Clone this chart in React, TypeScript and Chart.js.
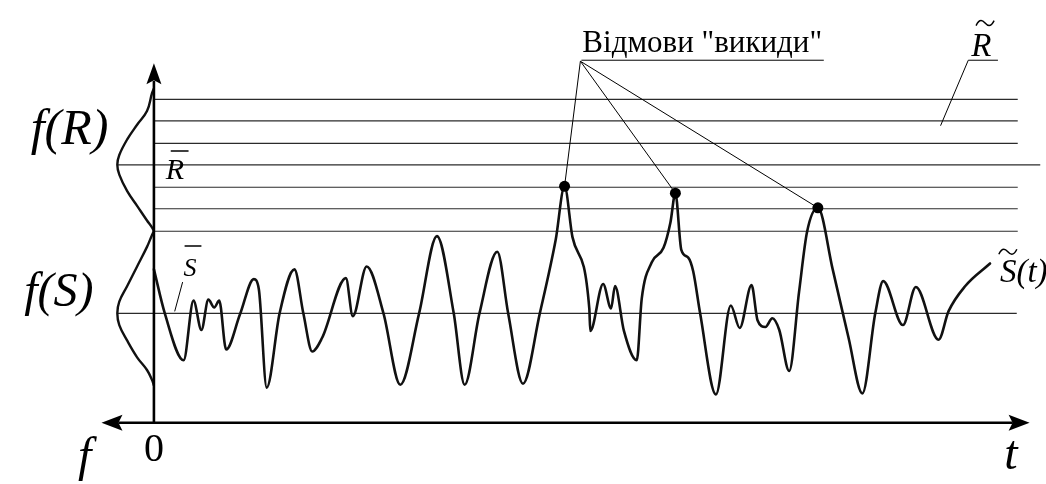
import React, { useEffect, useRef } from "react";
import { Chart, registerables } from "chart.js";

Chart.register(...registerables);

const W = 1046;
const H = 484;

// Time axis t (0 at the vertical axis) and level axis v (loads S and strengths R share it)
const tMin = -15;
const tMax = 89.6;
const vMin = -5.7;
const vMax = 42.7;

// Load process S~(t)
const signalT = [
  0, 1.1, 3.0, 4.0, 4.8, 5.5, 6.1, 6.6, 7.3, 8.7, 10.1, 10.6, 11.4, 12.7, 14.2, 15.1, 16.0, 17.0,
  19.4, 20.1, 21.5, 23.2, 24.9, 26.8, 28.6, 30.3, 31.4, 32.9, 34.7, 35.8, 37.3, 39.0, 40.6, 41.5,
  42.3, 44.0, 44.1, 45.4, 46.2, 46.6, 47.5, 48.8, 49.3, 50.3, 51.5, 52.2, 52.7, 53.3, 54.0, 54.5,
  55.2, 56.8, 58.3, 59.2, 60.4, 61.0, 61.8, 62.5, 63.2, 64.2, 65.2, 66.0, 67.1, 68.6, 70.2, 71.6,
  72.9, 73.7, 75.7, 77.0, 79.3, 80.3, 82.0, 84.5,
];
const signalV = [
  15.7, 11.2, 6.4, 12.5, 9.5, 12.6, 11.8, 12.5, 7.5, 11.1, 14.7, 13.7, 3.6, 11.2, 15.7, 11.2, 7.3, 8.7,
  14.8, 10.9, 16.0, 11.2, 3.9, 11.2, 19.1, 11.2, 3.9, 11.2, 17.5, 11.2, 4.0, 11.2, 18.7, 24.2,
  19.0, 11.7, 9.4, 14.2, 11.7, 14.0, 9.4, 6.4, 12.7, 16.4, 17.9, 20.5, 23.5, 17.7, 16.9, 15.5,
  11.2, 2.9, 12.0, 9.7, 14.1, 10.5, 9.8, 10.7, 9.5, 5.3, 13.4, 19.5, 22.0, 15.7, 8.7, 3.0,
  11.2, 14.5, 10.0, 13.9, 8.5, 11.4, 14.0, 16.3,
];

// Failures: load peaks that reach the strength band
const failureT = [41.5, 52.7, 67.1];
const failureV = [24.2, 23.5, 22.0];

// Strength realisations R~ and the means
const strengthLevels = [33.1, 30.9, 28.6, 24.1, 21.9, 19.6];
const rMean = 26.4;
const sMean = 11.2;
const levelsEnd = 87.3;
const sMeanEnd = 87.2;

// Density f(R), drawn leftwards from the vertical axis
const fROffset = [0, -0.2, -0.7, -1.7, -2.7, -3.5, -3.7, -3.5, -2.7, -1.7, -0.7, -0.2, 0];
const fRLevel = [34.2, 33.7, 31.9, 30.5, 29.0, 27.4, 26.4, 25.4, 23.7, 22.2, 20.7, 20.0, 19.6];

// Density f(S)
const fSOffset = [0, -0.2, -0.7, -1.7, -2.7, -3.5, -3.7, -3.5, -2.7, -1.7, -0.7, -0.2, 0];
const fSLevel = [19.6, 19.2, 18.0, 16.0, 14.0, 12.4, 11.2, 10.0, 8.4, 6.7, 5.4, 4.4, 3.8];

const fPeak = -3.7;

const SERIF = '"Liberation Serif", "Times New Roman", serif';

const xy = (ts: number[], vs: number[]) => ts.map((t, i) => ({ x: t, y: vs[i] }));

const level = (v: number, from: number, to: number) => ({
  data: [
    { x: from, y: v },
    { x: to, y: v },
  ],
  borderColor: "#2b2b2b",
  borderWidth: 1.2,
  pointRadius: 0,
  tension: 0,
  fill: false,
});

const decorations = {
  id: "decorations",
  afterDatasetsDraw(chart: any) {
    const { ctx } = chart;
    const xs = chart.scales.x;
    const ys = chart.scales.y;
    const X = (t: number) => xs.getPixelForValue(t);
    const Y = (v: number) => ys.getPixelForValue(v);

    ctx.save();
    ctx.strokeStyle = "#000";
    ctx.fillStyle = "#000";
    ctx.lineCap = "butt";

    // axes
    const ox = X(0);
    const oy = Y(0);
    ctx.lineWidth = 2.6;
    ctx.beginPath();
    ctx.moveTo(ox, oy);
    ctx.lineTo(ox, Y(35.0));
    ctx.moveTo(X(-3.6), oy);
    ctx.lineTo(X(86.8), oy);
    ctx.stroke();

    // arrow heads
    const up = Y(36.8);
    ctx.beginPath();
    ctx.moveTo(ox, up);
    ctx.lineTo(ox + 7.5, up + 21);
    ctx.lineTo(ox, up + 17);
    ctx.lineTo(ox - 7.5, up + 21);
    ctx.closePath();
    ctx.fill();

    const lx = X(-5.3);
    ctx.beginPath();
    ctx.moveTo(lx, oy);
    ctx.lineTo(lx + 21, oy - 8);
    ctx.lineTo(lx + 17, oy);
    ctx.lineTo(lx + 21, oy + 8);
    ctx.closePath();
    ctx.fill();

    const rx = X(88.5);
    ctx.beginPath();
    ctx.moveTo(rx, oy);
    ctx.lineTo(rx - 21, oy - 8);
    ctx.lineTo(rx - 17, oy);
    ctx.lineTo(rx - 21, oy + 8);
    ctx.closePath();
    ctx.fill();

    // leader lines
    ctx.lineWidth = 1;
    ctx.beginPath();
    // failures label
    ctx.moveTo(X(43.2), Y(37.1));
    ctx.lineTo(X(67.7), Y(37.1));
    failureT.forEach((t, i) => {
      ctx.moveTo(X(43.1), Y(37.0));
      ctx.lineTo(X(t), Y(failureV[i]));
    });
    // R~ label
    ctx.moveTo(X(82.3), Y(37.1));
    ctx.lineTo(X(85.3), Y(37.1));
    ctx.moveTo(X(82.3), Y(37.1));
    ctx.lineTo(X(79.5), Y(30.4));
    // S mean label
    ctx.moveTo(X(2.9), Y(14.4));
    ctx.lineTo(X(2.1), Y(11.4));
    ctx.stroke();

    // bars and tildes
    ctx.lineWidth = 1.5;
    ctx.beginPath();
    ctx.moveTo(X(1.7), Y(27.8));
    ctx.lineTo(X(3.5), Y(27.8));
    ctx.moveTo(X(3.1), Y(18.1));
    ctx.lineTo(X(4.8), Y(18.1));
    ctx.stroke();

    const tilde = (cx: number, cy: number, w: number) => {
      ctx.beginPath();
      ctx.moveTo(cx - w, cy + 2.5);
      ctx.bezierCurveTo(cx - w * 0.6, cy - 5, cx - w * 0.25, cy - 2.5, cx, cy);
      ctx.bezierCurveTo(cx + w * 0.25, cy + 2.5, cx + w * 0.6, cy + 5, cx + w, cy - 2.5);
      ctx.stroke();
    };
    tilde(X(84.0), Y(40.9), 9);
    tilde(X(86.3), Y(17.5), 9);

    // text
    ctx.textBaseline = "alphabetic";
    ctx.textAlign = "right";
    ctx.font = `italic 50px ${SERIF}`;
    ctx.fillText("f(R)", X(-4.6), Y(28.5));
    ctx.font = `italic 48px ${SERIF}`;
    ctx.fillText("f(S)", X(-6.1), Y(12.0));

    ctx.textAlign = "left";
    ctx.font = `italic 30px ${SERIF}`;
    ctx.fillText("R", X(1.2), Y(24.9));
    ctx.font = `italic 26px ${SERIF}`;
    ctx.fillText("S", X(3.0), Y(15.0));
    ctx.font = `italic 33px ${SERIF}`;
    ctx.fillText("R", X(82.6), Y(37.5));
    ctx.fillText("S(t)", X(85.5), Y(14.4));

    ctx.font = `31px ${SERIF}`;
    ctx.fillText('Відмови "викиди"', X(43.3), Y(37.9));

    ctx.textAlign = "center";
    ctx.font = `40px ${SERIF}`;
    ctx.fillText("0", X(0), Y(-3.9));
    ctx.font = `italic 48px ${SERIF}`;
    ctx.fillText("f", X(-7.0), Y(-4.9));
    ctx.fillText("t", X(86.6), Y(-4.7));

    ctx.restore();
  },
};

export default function App() {
  const ref = useRef<HTMLCanvasElement>(null);

  useEffect(() => {
    document.body.style.margin = "0";
    const canvas = ref.current;
    if (!canvas) return;

    const chart = new Chart(canvas, {
      type: "line",
      data: {
        datasets: [
          {
            data: xy(failureT, failureV),
            showLine: false,
            pointRadius: 5.5,
            pointBackgroundColor: "#000",
            pointBorderColor: "#000",
            pointBorderWidth: 0,
          },
          {
            data: xy(signalT, signalV),
            borderColor: "#111",
            borderWidth: 2.6,
            pointRadius: 0,
            cubicInterpolationMode: "monotone",
            borderJoinStyle: "round",
            borderCapStyle: "round",
          },
          {
            data: xy(fROffset, fRLevel),
            borderColor: "#111",
            borderWidth: 2.4,
            pointRadius: 0,
            tension: 0.4,
          },
          {
            data: xy(fSOffset, fSLevel),
            borderColor: "#111",
            borderWidth: 2.4,
            pointRadius: 0,
            tension: 0.4,
          },
          ...strengthLevels.map((v) => level(v, 0, levelsEnd)),
          level(rMean, fPeak, tMax),
          level(sMean, fPeak, sMeanEnd),
        ] as any,
      },
      options: {
        responsive: false,
        animation: false,
        events: [],
        layout: { padding: 0 },
        plugins: {
          legend: { display: false },
          tooltip: { enabled: false },
        },
        scales: {
          x: { type: "linear", min: tMin, max: tMax, display: false },
          y: { type: "linear", min: vMin, max: vMax, display: false },
        },
      },
      plugins: [decorations],
    });

    return () => chart.destroy();
  }, []);

  return <canvas ref={ref} width={W} height={H} style={{ display: "block" }} />;
}
